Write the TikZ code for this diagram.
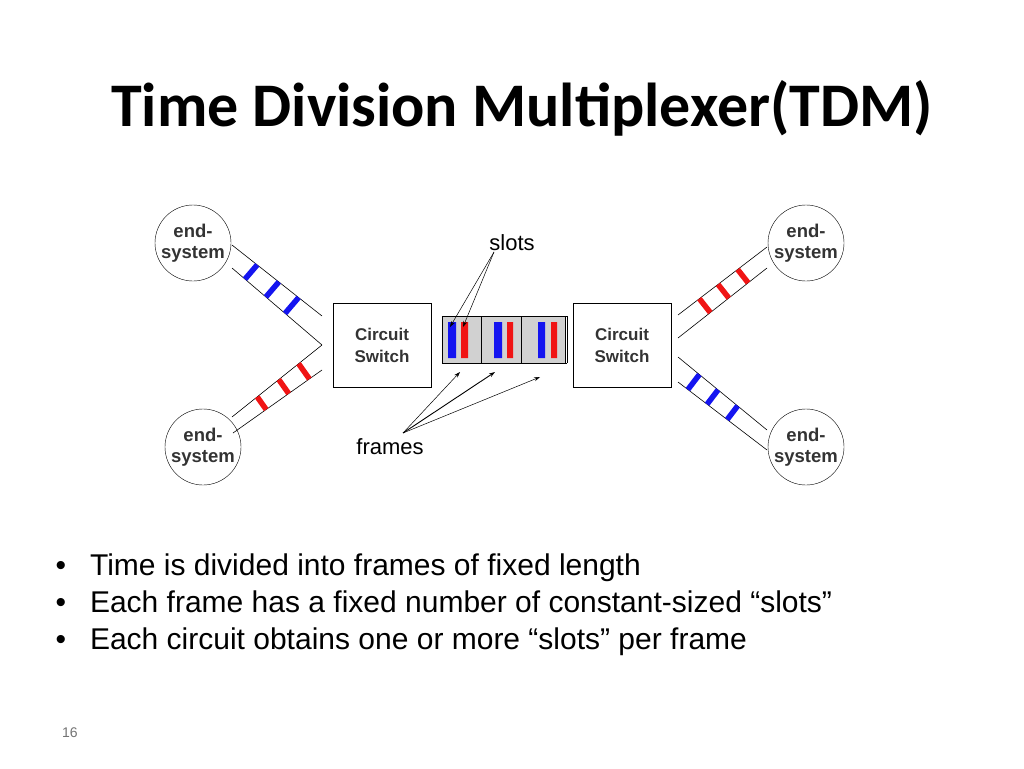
\documentclass[tikz,border=0pt]{standalone}
\usepackage{fontspec}
\setmainfont{Liberation Sans}
\newfontfamily\titlefont{Carlito}
\usetikzlibrary{calc,arrows.meta}
\definecolor{tdmblue}{RGB}{20,20,240}
\definecolor{tdmred}{RGB}{240,20,20}
\begin{document}
\begin{tikzpicture}[x=1pt,y=-1pt,
  es/.style={draw,circle,minimum size=76pt,inner sep=0pt,align=center,font=\fontsize{18.5}{21}\selectfont\bfseries,text=black!80},
  sw/.style={draw,minimum width=98pt,minimum height=84pt,align=center,font=\fontsize{17}{22}\selectfont\bfseries,text=black!80},
  ln/.style={line width=0.6pt},
  bs/.style={line width=5.5pt,tdmblue},
  rs/.style={line width=5.5pt,tdmred},
  ar/.style={-{Stealth[length=6pt,width=4pt]},line width=0.5pt},
  bullet/.style={anchor=base west,font=\fontsize{30}{34}\selectfont}]
\useasboundingbox (0,0) rectangle (1024,768);
\node[font=\titlefont\fontsize{62}{70}\selectfont\bfseries] (title) at (522,108) {Time Division Multiplexer(TDM)};
\node[es] (tl) at (193,243) {end-\\system};
\node[es] (bl) at (203,447) {end-\\system};
\node[es] (tr) at (806,243) {end-\\system};
\node[es] (br) at (806,447) {end-\\system};
\node[sw] (sl) at (382,345) {Circuit\\Switch};
\node[sw] (sr) at (622,345) {Circuit\\Switch};
% frames
\node[draw,fill=black!18,minimum width=123pt,minimum height=47pt,inner sep=0pt] (fr) at (503.5,339.5) {};
\draw[ln] (fr.north west) -- ++(125,0) (fr.south west) -- ++(125,0);
\draw[ln] (481,316) -- (481,363) (521,316) -- (521,363);
\draw[ln] (567,316) -- (567,363);
\fill[tdmblue] (448,322) rectangle (456,358) (494,322) rectangle (502,358) (538,322) rectangle (545,358);
\fill[tdmred] (461,322) rectangle (468,358) (507,322) rectangle (513,358) (551,322) rectangle (557,358);
% links
\coordinate (a1) at (232,245); \coordinate (a2) at (322,316);
\coordinate (b1) at (232,268); \coordinate (b2) at (322,345);
\coordinate (c1) at (232,417); \coordinate (c2) at (322,345);
\coordinate (d1) at (233,433); \coordinate (d2) at (322,370);
\draw[ln] (a1) -- (a2) (b1) -- (b2) (c1) -- (c2) (d1) -- (d2);
\foreach \t in {0.28,0.52,0.74}{
  \draw[bs] ($(a1)!\t!(a2)$) coordinate (p) -- ($(b1)!(p)!(b2)$);
  \draw[rs] ($(c1)!\t!(c2)$) coordinate (p) -- ($(d1)!(p)!(d2)$);}
\coordinate (e1) at (767,247); \coordinate (e2) at (678,315);
\coordinate (f1) at (767,268); \coordinate (f2) at (678,338);
\coordinate (g1) at (767,430); \coordinate (g2) at (678,357);
\coordinate (h1) at (767,450); \coordinate (h2) at (678,382);
\draw[ln] (e1) -- (e2) (f1) -- (f2) (g1) -- (g2) (h1) -- (h2);
\foreach \t in {0.33,0.55,0.76}{
  \draw[rs] ($(e1)!\t!(e2)$) coordinate (p) -- ($(f1)!(p)!(f2)$);
  \draw[bs] ($(g1)!\t!(g2)$) coordinate (p) -- ($(h1)!(p)!(h2)$);}
% labels
\node[font=\fontsize{22}{26}\selectfont] (slots) at (512,243) {slots};
\coordinate (so) at (494,252);
\draw[ar] (so) -- (450,327);
\draw[ar] (so) -- (463,327);
\node[font=\fontsize{22}{26}\selectfont] (frames) at (390,447) {frames};
\coordinate (fo) at (403,433);
\draw[ar] (fo) -- (460,372);
\draw[ar,line width=0.9pt] (fo) -- (495,372);
\draw[ar] (fo) -- (540,377);
% bullets
\node[bullet] (l1) at (52,575) {•\hspace{24pt}Time is divided into frames of fixed length};
\node[bullet] (l2) at (52,612) {•\hspace{24pt}Each frame has a fixed number of constant-sized “slots”};
\node[bullet] (l3) at (52,649) {•\hspace{24pt}Each circuit obtains one or more “slots” per frame};
\node[font=\fontsize{14}{16}\selectfont,text=black!55] (pg) at (70,733) {16};
\end{tikzpicture}
\end{document}
